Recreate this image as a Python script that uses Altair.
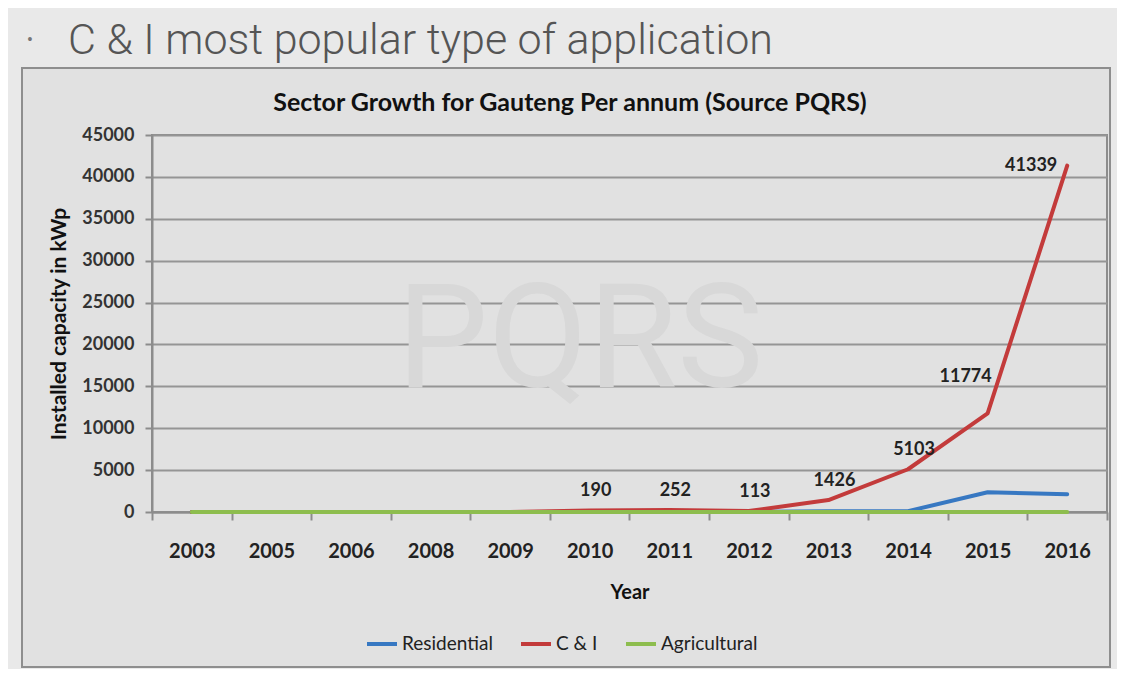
import altair as alt
import pandas as pd

years = ["2003", "2005", "2006", "2008", "2009", "2010", "2011", "2012", "2013", "2014", "2015", "2016"]
residential = [0, 0, 0, 0, 0, 0, 0, 0, 100, 100, 2350, 2110]
c_and_i = [0, 0, 0, 0, 0, 190, 252, 113, 1426, 5103, 11774, 41339]
agricultural = [0, 0, 0, 0, 0, 0, 0, 0, 0, 0, 0, 0]
series_names = ["Residential", "C & I", "Agricultural"]
series_colors = ["#3778c2", "#c33b3b", "#8dbd4e"]
series_widths = [4, 4, 2.5]
y_ticks = [0, 5000, 10000, 15000, 20000, 25000, 30000, 35000, 40000, 45000]

rows = []
for name, vals in zip(series_names, [residential, c_and_i, agricultural]):
    for yr, v in zip(years, vals):
        rows.append({"Year": yr, "Sector": name, "Value": v})
df = pd.DataFrame(rows)
ci = pd.DataFrame({"Year": years, "Value": c_and_i})
ci = ci[ci["Year"].astype(int) >= 2010]

W, H = 955, 377
FONT = "Lato"
one = pd.DataFrame({"k": [0]})

xenc = alt.X("Year:N", sort=years, scale=alt.Scale(paddingInner=0, paddingOuter=0),
             axis=alt.Axis(title="Year", tickBand="extent", labelAngle=0, labelFont=FONT,
                           labelFontSize=20, labelFontWeight="bold", labelColor="#222",
                           labelPadding=21, tickSize=8, tickColor="#8c8c8c", tickWidth=2,
                           domainColor="#8c8c8c", domainWidth=2, grid=False,
                           titleFont=FONT, titleFontSize=20, titleFontWeight="bold",
                           titleColor="#111", titlePadding=21))
yenc = alt.Y("Value:Q", scale=alt.Scale(domain=[0, 45000], nice=False),
             axis=alt.Axis(title="Installed capacity in kWp", values=y_ticks, format="d",
                           labelFont=FONT, labelFontSize=18, labelFontWeight="bold",
                           labelColor="#333", labelPadding=11, tickSize=7, tickColor="#8c8c8c",
                           tickWidth=2, domainColor="#8c8c8c", domainWidth=2,
                           gridColor="#959595", gridWidth=2, titleFont=FONT, titleFontSize=21,
                           titleFontWeight="bold", titleColor="#111", titlePadding=12))

# lighter slide area outside the chart box (wide stroke drawn outward from box edge)
outer = alt.Chart(one).mark_rect(fill=None, stroke="#e9e9e9", strokeWidth=80).encode(
    x=alt.value(-170), x2=alt.value(998), y=alt.value(-107), y2=alt.value(572))
box = alt.Chart(one).mark_rect(fill=None, stroke="#8e8e8e", strokeWidth=2).encode(
    x=alt.value(-130), x2=alt.value(958), y=alt.value(-67), y2=alt.value(532))

slide_title = alt.Chart(one).mark_text(
    text="C & I most popular type of application", align="left", baseline="alphabetic",
    font="Roboto", fontSize=43, color="#555555", fontWeight=300).encode(
    x=alt.value(-84), y=alt.value(-81))
bullet = alt.Chart(one).mark_text(
    text="•", align="center", baseline="middle", font="Liberation Sans", fontSize=14,
    color="#777").encode(x=alt.value(-122), y=alt.value(-95))

chart_title = alt.Chart(one).mark_text(
    text="Sector Growth for Gauteng Per annum (Source PQRS)", align="center",
    baseline="alphabetic", font=FONT, fontSize=25, fontWeight="bold", color="#111").encode(
    x=alt.value(418), y=alt.value(-24))

watermark = alt.Chart(one).mark_text(
    text="PQRS", align="center", baseline="alphabetic", font="Roboto",
    fontSize=145, color="#d8d8d8").encode(x=alt.value(428), y=alt.value(252))

lines = alt.Chart(df).mark_line(interpolate="linear", strokeCap="round", strokeJoin="round").encode(
    x=xenc, y=yenc,
    color=alt.Color("Sector:N", sort=series_names,
                    scale=alt.Scale(domain=series_names, range=series_colors),
                    legend=alt.Legend(title=None, orient="none", legendX=213, legendY=492,
                                      direction="horizontal", symbolType="stroke",
                                      symbolSize=900, symbolStrokeWidth=4, labelFont=FONT,
                                      labelFontSize=19, labelColor="#222", labelOffset=3,
                                      columnPadding=20)),
    strokeWidth=alt.StrokeWidth("Sector:N", scale=alt.Scale(domain=series_names, range=series_widths),
                                legend=None),
)

lab_kw = dict(font=FONT, fontSize=18, fontWeight="bold", color="#222", align="center",
              baseline="middle")
labels_main = alt.Chart(ci).transform_filter("toNumber(datum.Year) <= 2014").mark_text(
    dx=6, dy=-19, **lab_kw).encode(x=alt.X("Year:N", sort=years), y="Value:Q",
                                   text=alt.Text("Value:Q", format="d"))
labels_2015 = alt.Chart(ci).transform_filter("datum.Year == '2015'").mark_text(
    dx=-22, dy=-36, **lab_kw).encode(x=alt.X("Year:N", sort=years), y="Value:Q",
                                     text=alt.Text("Value:Q", format="d"))
labels_2016 = alt.Chart(ci).transform_filter("datum.Year == '2016'").mark_text(
    dx=-36, dy=0, **lab_kw).encode(x=alt.X("Year:N", sort=years), y="Value:Q",
                                   text=alt.Text("Value:Q", format="d"))

chart = alt.layer(outer, box, slide_title, bullet, chart_title, watermark, lines,
                  labels_main, labels_2015, labels_2016).properties(
    width=W, height=H,
    autosize=alt.AutoSizeParams(type="none"),
    padding={"left": 144, "top": 127, "right": 10, "bottom": 157},
    background="#e1e1e1",
).configure_view(stroke="#8c8c8c", strokeWidth=2)

chart.save("out.html", embed_options={"renderer": "svg", "actions": False})
